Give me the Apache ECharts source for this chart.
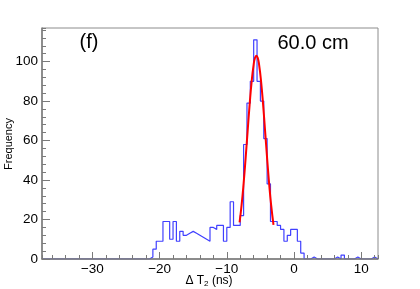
<!DOCTYPE html>
<html><head><meta charset="utf-8">
<script src="https://cdn.jsdelivr.net/npm/echarts@6/dist/echarts.min.js"></script>
<style>html,body{margin:0;padding:0;background:#fff}#c{width:420px;height:289px}</style>
</head><body><div id="c"></div>
<script>
// Histogram: 100 bins of 0.5 ns from -37.5 to 12.5
const binStart = -37.5;
const binWidth = 0.5;
const counts = [
  0,0,0,0,0,0,0,0,0,0,
  0,0,0,0,0,0,0,0,0,0,
  0,0,0,0,0,0,0,0,0,0,
  0,0,1,5,9,9,19,19,10,19,
  9,14,12,13,14,13,12,11,10,9,
  16,15,17,17,9,16,29,17,17,22,
  58,79,90,111,90,80,61,38,19,19,
  17,15,9,12,15,15,9,3,0,0,
  1,0,0,0,0,0,0,1,0,2,
  0,0,0,1,0,0,0,0,1,0
];
// Gaussian fit curve
const fitX = [-8.1,-7.8,-7.5,-7.2,-6.9,-6.6,-6.3,-6.0,-5.8,-5.6,-5.4,-5.2,-4.9,-4.6,-4.3,-4.0,-3.7,-3.4,-3.05];
const fitY = [18.5,27.3,38.2,51.0,64.8,78.3,90.0,98.6,101.9,103,101.9,98.6,90.0,78.3,64.8,51.0,38.2,27.3,17.3];
const xRange = [-37.5, 12.5];
const yRange = [0, 117];
const panelLabel = '(f)';
const distLabel = '60.0 cm';
const yTitle = 'Frequency';
const xTitle = 'Δ T{s|2} (ns)';

const FONT = 'Liberation Sans, Arial, Helvetica, sans-serif';
const histData = counts.map((c, i) => [binStart + i * binWidth, c]);
histData.push([binStart + counts.length * binWidth, counts[counts.length - 1]]);
const fitData = fitX.map((x, i) => [x, fitY[i]]);

const axisGray = '#7a7a7a';
const chart = echarts.init(document.getElementById('c'), null, {renderer: 'canvas'});
chart.setOption({
  animation: false,
  backgroundColor: '#fff',
  grid: {left: 42, top: 28, width: 336, height: 231, containLabel: false, outerBoundsMode: 'none',
    show: true, borderColor: '#8c8c8c', borderWidth: 1, backgroundColor: 'transparent'},
  xAxis: [{
    type: 'value', min: xRange[0], max: xRange[1], splitNumber: 5, position: 'bottom', z: 5,
    axisLine: {show: true, onZero: false, lineStyle: {color: axisGray, width: 1.5}},
    axisTick: {show: true, inside: true, length: 7, lineStyle: {color: axisGray, width: 1}},
    axisLabel: {showMinLabel: false, showMaxLabel: false, margin: 3, fontSize: 13.5, color: '#000', fontFamily: FONT,
      formatter: v => (v < 0 ? '\u2212' + Math.abs(v) : String(v))},
    splitLine: {show: false}
  }, {
    type: 'value', min: xRange[0], max: xRange[1], splitNumber: 25, position: 'bottom', z: 5,
    axisLine: {show: false, onZero: false},
    axisTick: {show: true, inside: true, length: 4, lineStyle: {color: axisGray, width: 1}},
    axisLabel: {show: false}, splitLine: {show: false}
  }],
  yAxis: [{
    type: 'value', min: yRange[0], max: yRange[1], interval: 20, position: 'left', z: 5,
    axisLine: {show: true, onZero: false, lineStyle: {color: axisGray, width: 1.5}},
    axisTick: {show: true, inside: true, length: 8, lineStyle: {color: axisGray, width: 1}},
    axisLabel: {showMaxLabel: false, margin: 4, fontSize: 13.5, color: '#000', fontFamily: FONT},
    splitLine: {show: false}
  }, {
    type: 'value', min: yRange[0], max: yRange[1], interval: 4, position: 'left', z: 5,
    axisLine: {show: false, onZero: false},
    axisTick: {show: true, inside: true, length: 4, lineStyle: {color: axisGray, width: 1}},
    axisLabel: {show: false}, splitLine: {show: false}
  }],
  graphic: [
    {type: 'text', x: 89, y: 42, style: {text: panelLabel, fontSize: 20, fontFamily: FONT, fill: '#000', align: 'center', verticalAlign: 'middle'}},
    {type: 'text', x: 313, y: 43, style: {text: distLabel, fontSize: 20, fontFamily: FONT, fill: '#000', align: 'center', verticalAlign: 'middle'}},
    {type: 'text', x: 9, y: 144, rotation: Math.PI / 2, style: {text: yTitle, fontSize: 11, fontFamily: FONT, fill: '#000', align: 'center', verticalAlign: 'middle'}},
    {type: 'text', x: 209, y: 281, style: {text: xTitle, fontSize: 12, fontFamily: FONT, fill: '#000', align: 'center', verticalAlign: 'middle',
      rich: {s: {fontSize: 8, fontFamily: FONT, fill: '#000', verticalAlign: 'bottom', padding: [6, 0, 0, 0]}}}}
  ],
  series: [{
    type: 'line', xAxisIndex: 0, yAxisIndex: 0, data: histData, step: 'end', showSymbol: false, z: 2,
    lineStyle: {color: '#4040ff', width: 1.2}
  }, {
    type: 'line', xAxisIndex: 0, yAxisIndex: 0, data: fitData, smooth: true, showSymbol: false, z: 3,
    lineStyle: {color: '#ff0000', width: 2}
  }]
});
</script>
</body></html>
